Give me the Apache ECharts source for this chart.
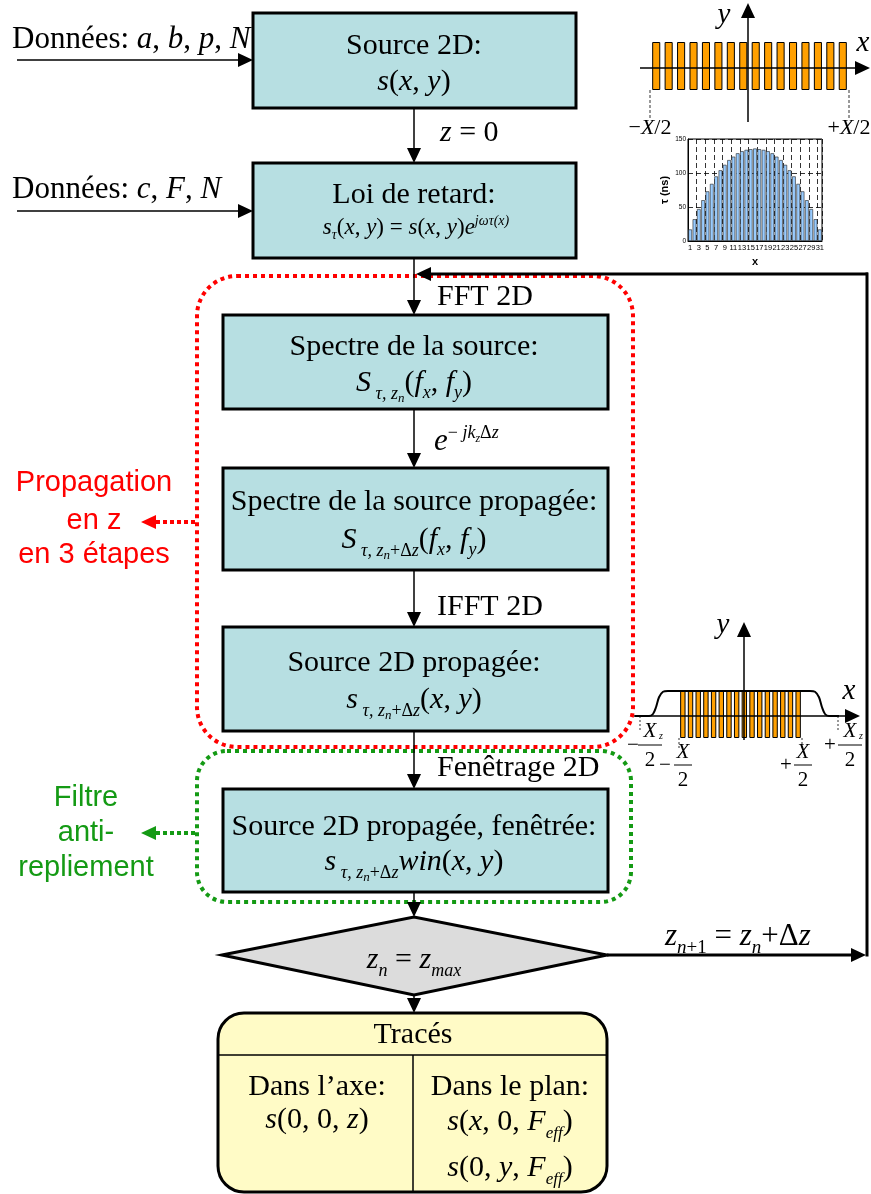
<!DOCTYPE html>
<html><head><meta charset="utf-8">
<script src="https://cdn.jsdelivr.net/npm/echarts@6/dist/echarts.min.js"></script>
<style>html,body{margin:0;padding:0;background:#fff}#c{width:871px;height:1194px}</style>
</head><body><div id="c"></div>
<script>
// ---------- data ----------
const tauX = ['1','2','3','4','5','6','7','8','9','10','11','12','13','14','15','16','17','18','19','20','21','22','23','24','25','26','27','28','29','30','31'];
const tauNs = [17,32,47,60,73,84,95,104,112,119,124,129,132,134,135,136,135,134,132,129,124,119,112,104,95,84,73,60,47,32,17];
const tauTicks = [0,50,100,150];
const sourceElements = ['1','2','3','4','5','6','7','8','9','10','11','12','13','14','15','16'];
const sourceAmp = [1,1,1,1,1,1,1,1,1,1,1,1,1,1,1,1];
const propElements = ['1','2','3','4','5','6','7','8','9','10','11','12','13','14','15','16'];
const propAmp = [1,1,1,1,1,1,1,1,1,1,1,1,1,1,1,1];
const windowX = [-109,-95,-91,-88,-85,-81,-76,66,71,75,78,81,85,95];
const windowY = [0,0,0.08,0.35,0.75,0.97,1,1,0.97,0.75,0.35,0.08,0,0];

const SERIF = 'Liberation Serif', SANS = 'Liberation Sans';
const RED = '#ff0000', GREEN = '#149a14';
const BOXFILL = '#b7dfe2';

// ---------- helpers ----------
const g = [];
const cv = document.createElement('canvas').getContext('2d');
function fstr(size, it, fam, bold){ return (it?'italic ':'')+(bold?'bold ':'')+size+'px "'+fam+'"'; }
function meas(t,size,it,fam){ cv.font = fstr(size,it,fam); return cv.measureText(t).width; }
function T(x,y,s,size,o){
  o = o||{};
  g.push({type:'text', x:x, y:y, z:o.z||40, style:{text:s, fontSize:size, fontFamily:o.fam||SERIF,
    fontStyle:o.it?'italic':'normal', fontWeight:o.bold?'bold':'normal', fill:o.color||'#000',
    align:o.align||'center', verticalAlign:'middle', textAlign:o.align||'center', textVerticalAlign:'middle'}});
}
// segs: [text, size, italic, shift]
function M(x, cy, main, segs, align, fam){
  fam = fam||SERIF;
  const ws = segs.map(s=>meas(s[0], s[1]||main, !!s[2], fam));
  const w = ws.reduce((a,b)=>a+b,0);
  let cx = align==='left' ? x : (align==='right' ? x-w : x-w/2);
  segs.forEach((s,i)=>{
    const sz = s[1]||main;
    const y = cy + 0.32*(main - sz) + (s[3]||0);
    T(cx, y, s[0], sz, {it:!!s[2], align:'left', fam:fam});
    cx += ws[i];
  });
}
function L(x1,y1,x2,y2,w,c,dash,z){
  g.push({type:'line', z:z||15, shape:{x1:x1,y1:y1,x2:x2,y2:y2}, style:{stroke:c||'#000', lineWidth:w||1.5, lineDash:dash||null}});
}
function P(pts,c,z){ g.push({type:'polygon', z:z||16, shape:{points:pts}, style:{fill:c||'#000'}}); }
function R(x,y,w,h,fill,stroke,lw,r,dash,z){
  g.push({type:'rect', z:z||10, shape:{x:x,y:y,width:w,height:h,r:r||0},
    style:{fill:fill||'none', stroke:stroke||'#000', lineWidth:lw||3, lineDash:dash||null}});
}
const AL=15, AW=7;
function arrowDown(x,y1,y2,w){ L(x,y1,x,y2-AL+1,w||1.5); P([[x,y2],[x-AW,y2-AL],[x+AW,y2-AL]]); }
function arrowRight(x1,y,x2,w,z){ L(x1,y,x2-AL+1,y,w||1.5,'#000',null,z); P([[x2,y],[x2-AL,y-AW],[x2-AL,y+AW]],'#000',z); }
function arrowLeft(x1,y,x2,w,c,dash,z){ L(x1,y,x2+AL-1,y,w||1.5,c,dash,z); P([[x2,y],[x2+AL,y-AW],[x2+AL,y+AW]],c,z); }
function arrowUp(x,y1,y2,w,z){ L(x,y1,x,y2+AL-1,w||1.5,'#000',null,z); P([[x,y2],[x-AW,y2+AL],[x+AW,y2+AL]],'#000',z); }

// ---------- dotted groups ----------
R(197,276,436,471,'none',RED,4,40,[4,4],5);
R(197,751,434,151,'none',GREEN,4,30,[4,4],5);

// ---------- boxes ----------
R(253,13,323,95,BOXFILL);
R(253,163,323,95,BOXFILL);
R(223,315,385,94,BOXFILL);
R(223,468,385,102,BOXFILL);
R(223,627,385,104,BOXFILL);
R(223,789,385,103,BOXFILL);
g.push({type:'polygon', z:10, shape:{points:[[222,955],[414,917],[607,955],[414,995]]}, style:{fill:'#dcdcdc', stroke:'#000', lineWidth:3}});
R(218,1013,389,179,'#fffbc6','#000',3,26);
L(218,1055,607,1055,1.5,'#000',null,12);
L(413,1055,413,1191,1.5,'#000',null,12);

// ---------- arrows ----------
arrowDown(414,108,163);
arrowDown(414,258,315);
arrowDown(414,409,468);
arrowDown(414,570,627);
arrowDown(414,731,789);
arrowDown(414,892,917);
arrowDown(414,995,1013);
arrowRight(17,60,253);
arrowRight(17,211,253);
arrowRight(607,955,866,3);
L(867,956.5,867,272.5,3);
arrowLeft(868,274,416,3);
arrowLeft(195,522,141,4,RED,[4,3],16);
arrowLeft(195,833,141,4,GREEN,[4,3],16);

// ---------- texts ----------
const F = 30;
const D = 31;
M(12,40,D,[['Données: '],['a',D,1],[', '],['b',D,1],[', '],['p',D,1],[', '],['N',D,1]],'left');
M(12,190,D,[['Données: '],['c',D,1],[', '],['F',D,1],[', '],['N',D,1]],'left');

T(414,46,'Source 2D:',F);
M(414,82,F,[['s',F,1],['('],['x',F,1],[', '],['y',F,1],[')']]);
T(414,195,'Loi de retard:',F);
M(416,228,23,[['s',23,1],['τ',14,1,4],['('],['x',23,1],[', '],['y',23,1],[')'],[' = '],['s',23,1],['('],['x',23,1],[', '],['y',23,1],[')'],['e',23,1],['jωτ(x)',14,1,-10]]);
T(414,347,'Spectre de la source:',F);
M(414,383,F,[['S',F,1],[' τ, z',18,1,7],['n',13,1,10],['('],['f',F,1],['x',18,1,6],[', '],['f',F,1],['y',18,1,6],[')']]);
T(414,502,'Spectre de la source propagée:',F);
M(414,540,F,[['S',F,1],[' τ, z',18,1,7],['n',13,1,10],['+Δ',18,0,7],['z',18,1,7],['('],['f',F,1],['x',18,1,6],[', '],['f',F,1],['y',18,1,6],[')']]);
T(414,663,'Source 2D propagée:',F);
M(414,700,F,[['s',F,1],[' τ, z',18,1,7],['n',13,1,10],['+Δ',18,0,7],['z',18,1,7],['('],['x',F,1],[', '],['y',F,1],[')']]);
T(414,827,'Source 2D propagée, fenêtrée:',F);
M(414,862,F,[['s',F,1],[' τ, z',18,1,7],['n',13,1,10],['+Δ',18,0,7],['z',18,1,7],['win',F,1],['('],['x',F,1],[', '],['y',F,1],[')']]);

M(440,133,F,[['z',F,1],[' = 0']],'left');
T(437,297,'FFT 2D',F,{align:'left'});
M(434,442,31,[['e',31,1],['−',18,0,-13],[' jk',18,1,-13],['z',12,1,-9],['Δ',18,0,-13],['z',18,1,-13]],'left');
T(437,607,'IFFT 2D',F,{align:'left'});
T(437,768,'Fenêtrage 2D',F,{align:'left'});
M(665,937,31,[['z',31,1],['n',19,1,7],['+1',19,0,7],[' = '],['z',31,1],['n',19,1,7],['+Δ'],['z',31,1]],'left');
M(414,960,F,[['z',F,1],['n',18,1,7],[' = '],['z',F,1],['max',18,1,7]]);

T(413,1035,'Tracés',F);
T(317,1087,'Dans l’axe:',F);
T(510,1087,'Dans le plan:',F);
M(317,1120,F,[['s',F,1],['(0, 0, '],['z',F,1],[')']]);
M(510,1122,F,[['s',F,1],['('],['x',F,1],[', 0, '],['F',F,1],['eff',17,1,7],[')']]);
M(510,1168,F,[['s',F,1],['(0, '],['y',F,1],[', '],['F',F,1],['eff',17,1,7],[')']]);

// side labels
[['Propagation',483],['en z',521],['en 3 étapes',555]].forEach(a=>T(94,a[1],a[0],29,{fam:SANS,color:RED}));
[['Filtre',798],['anti-',833],['repliement',868]].forEach(a=>T(86,a[1],a[0],29,{fam:SANS,color:GREEN}));

// ---------- top-right diagram (source) ----------
arrowUp(748,122,3,1.5,30);
arrowRight(640,68,870,1.5,30);
T(724,15,'y',29,{it:true});
T(863,43,'x',29,{it:true});
L(650,90,650,120,1,'#333',[3,2]);
L(849,90,849,120,1,'#333',[3,2]);
M(650,128,22,[['−'],['X',22,1],['/2']]);
M(849,128,22,[['+'],['X',22,1],['/2']]);

// ---------- middle-right diagram (propagated + window) ----------
arrowUp(744,740,622,1.5,30);
arrowRight(634,716,860,1.5,30);
T(723,625,'y',29,{it:true});
T(849,691,'x',29,{it:true});
L(640,716,640,730,1,'#333',[2,2]);
L(838,716,838,730,1,'#333',[2,2]);
L(679,738,679,748,1,'#333',[2,2]);
L(802,738,802,748,1,'#333',[2,2]);
function frac(cx, cyNum, barY, barW, num, sub, sign, signX, signY){
  T(cx, cyNum, num, 21, {it:true});
  if (sub) T(cx+11, cyNum+5, sub, 10, {it:true});
  L(cx-barW/2, barY, cx+barW/2, barY, 1, '#000');
  T(cx, barY+15, '2', 21);
  T(signX, signY, sign, 21);
}
frac(650,731,745,24,'X','z','−',633,745);
frac(683,752,765,18,'X',null,'−',665,765);
frac(803,752,765,18,'X',null,'+',786,765);
frac(850,731,745,24,'X','z','+',830,745);

// ---------- chart ----------
const chart = echarts.init(document.getElementById('c'), null, {renderer:'canvas'});
chart.setOption({
  animation:false,
  backgroundColor:'#fff',
  grid:[
    {left:688, top:139, width:134, height:102, show:true, borderColor:'#000', borderWidth:1, backgroundColor:'#fff', outerBoundsMode:'none', containLabel:false},
    {left:650, top:42, width:199, height:48, outerBoundsMode:'none', containLabel:false},
    {left:679, top:691, width:123, height:47, outerBoundsMode:'none', containLabel:false},
    {left:634, top:691, width:220, height:25, outerBoundsMode:'none', containLabel:false}
  ],
  xAxis:[
    {gridIndex:0, type:'category', data:tauX,
     axisLabel:{interval:1, fontSize:7.5, color:'#000', margin:3, fontFamily:SANS, hideOverlap:false},
     axisTick:{show:false}, axisLine:{lineStyle:{color:'#000', width:1}},
     splitLine:{show:true, interval:1, lineStyle:{color:'#000', type:[5,3], width:0.8}},
     name:'x', nameLocation:'middle', nameGap:15, nameTextStyle:{fontWeight:'bold', fontSize:11, color:'#000', fontFamily:SANS}},
    {gridIndex:1, type:'category', data:sourceElements, show:false},
    {gridIndex:2, type:'category', data:propElements, show:false},
    {gridIndex:3, type:'value', min:-110, max:110, show:false}
  ],
  yAxis:[
    {gridIndex:0, type:'value', min:tauTicks[0], max:tauTicks[tauTicks.length-1], interval:50,
     axisLabel:{fontSize:6.5, color:'#000', margin:2, fontFamily:SANS},
     axisTick:{show:false}, axisLine:{show:true, lineStyle:{color:'#000', width:1}},
     splitLine:{show:true, lineStyle:{color:'#000', type:[5,3], width:0.8}},
     name:'τ (ns)', nameLocation:'middle', nameGap:18, nameRotate:90,
     nameTextStyle:{fontWeight:'bold', fontSize:11, color:'#000', fontFamily:SANS}},
    {gridIndex:1, type:'value', min:0, max:1, show:false},
    {gridIndex:2, type:'value', min:0, max:1, show:false},
    {gridIndex:3, type:'value', min:0, max:1, show:false}
  ],
  series:[
    {type:'bar', xAxisIndex:0, yAxisIndex:0, data:tauNs, barCategoryGap:'15%',
     itemStyle:{color:'#99ccff', borderColor:'#222', borderWidth:0.6}, z:3},
    {type:'bar', xAxisIndex:1, yAxisIndex:1, data:sourceAmp, barCategoryGap:'35%',
     itemStyle:{color:'#ffa000', borderColor:'#000', borderWidth:1}},
    {type:'bar', xAxisIndex:2, yAxisIndex:2, data:propAmp, barCategoryGap:'30%',
     itemStyle:{color:'#ffa000', borderColor:'#000', borderWidth:1}},
    {type:'line', xAxisIndex:3, yAxisIndex:3, data:windowX.map((x,i)=>[x, windowY[i]]),
     smooth:0.3, showSymbol:false, symbol:'none', lineStyle:{color:'#000', width:2}, z:5}
  ],
  graphic:{elements:g}
});
</script></body></html>
